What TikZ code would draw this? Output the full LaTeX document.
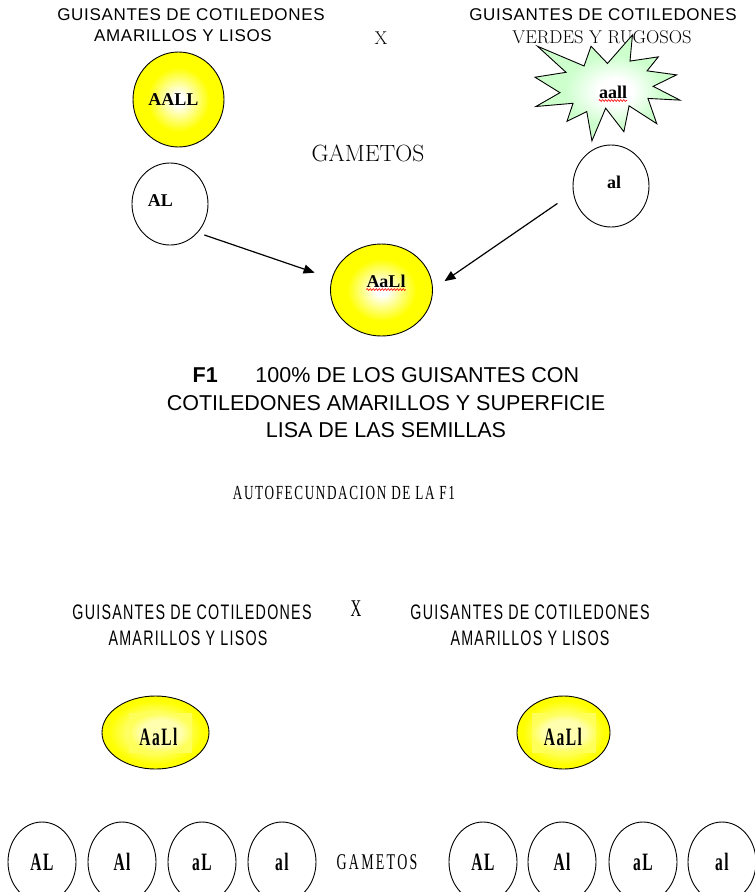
\documentclass[tikz,border=0pt]{standalone}
\usepackage{fontspec}
\usetikzlibrary{shapes.geometric,arrows.meta,decorations.pathmorphing}
\newfontfamily\arialf[LetterSpace=4]{Liberation Sans}
\newfontfamily\arialplain{Liberation Sans}
\newfontfamily\narrowsans[FakeStretch=0.68,LetterSpace=6]{Liberation Sans}
\newfontfamily\timesf{Liberation Serif}
\newfontfamily\condbold[FakeStretch=0.62,LetterSpace=6]{Liberation Serif}
\newfontfamily\condserif[FakeStretch=0.62,LetterSpace=10]{Liberation Serif}
\newfontfamily\autof[FakeStretch=0.66,LetterSpace=8]{Liberation Serif}
\definecolor{ylw}{RGB}{255,255,0}
\definecolor{grn}{RGB}{204,255,204}
\definecolor{ylwpale}{RGB}{255,255,175}
\definecolor{ylwedge}{RGB}{255,255,90}
\definecolor{ylwsoft}{RGB}{255,255,120}
\pgfdeclareradialshading{yglow}{\pgfpoint{0bp}{0bp}}{color(0bp)=(white); color(3bp)=(white); color(17bp)=(ylw); color(50bp)=(ylw)}
\pgfdeclareradialshading{ysoft}{\pgfpoint{0bp}{0bp}}{color(0bp)=(ylwsoft); color(12bp)=(ylwsoft); color(22bp)=(ylw); color(50bp)=(ylw)}
\pgfdeclareradialshading{gglow}{\pgfpoint{3bp}{-2bp}}{color(0bp)=(white); color(6bp)=(white); color(17bp)=(grn); color(50bp)=(grn)}
\pgfdeclareradialshading{rglow}{\pgfpoint{0bp}{0bp}}{color(0bp)=(ylwpale); color(16bp)=(ylwpale); color(25bp)=(ylwedge); color(50bp)=(ylwedge)}
\tikzset{
  head/.style={font=\arialf\fontsize{17}{20}\selectfont, inner sep=0pt},
  slab/.style={font=\rmfamily\fontsize{18.5}{20}\selectfont, inner sep=0pt},
  nhead/.style={font=\narrowsans\fontsize{21}{24}\selectfont, inner sep=0pt},
  geno/.style={font=\timesf\bfseries\fontsize{18}{20}\selectfont, inner sep=0pt},
  cgeno/.style={font=\condbold\bfseries\fontsize{25}{28}\selectfont, inner sep=0pt},
  ycirc/.style={ellipse, draw, line width=0.9pt, shading=yglow, inner sep=0pt},
  ysoftc/.style={ellipse, draw, line width=0.9pt, shading=ysoft, inner sep=0pt},
  wcirc/.style={ellipse, draw, line width=0.9pt, fill=white, inner sep=0pt},
  gcirc/.style={ellipse, draw, line width=0.9pt, fill=white, inner sep=0pt, minimum width=68pt, minimum height=80pt},
  arr/.style={line width=1.2pt, -{Triangle[length=11pt,width=9pt]}},
  spell/.style={red, line width=0.6pt, decorate, decoration={snake, amplitude=0.9pt, segment length=3pt}}
}
\begin{document}
\begin{tikzpicture}[x=1pt,y=-1pt]
\useasboundingbox (0,0) rectangle (755,892);
\clip (0,0) rectangle (755,892);
\fill[white] (0,0) rectangle (755,892);

% top headings
\node[head] (h1) at (191,15) {GUISANTES DE COTILEDONES};
\node[head] (h1b) at (183,36) {AMARILLOS Y LISOS};
\node[head] (h2) at (603,15) {GUISANTES DE COTILEDONES};
\node[slab] (h2b) at (602,37) {VERDES Y RUGOSOS};
\node[slab] (x1) at (381,38) {X};

% starburst
\begin{scope}[shift={(535,35)}, x=0.671pt, y=-0.49pt]
\draw[line width=0.9pt, shading=gglow] (108,58) -- (145.22,0) -- (141.55,53.25) -- (183.8,44.57) -- (167.02,73.15) -- (210.97,81.37) -- (176.07,104.75) -- (216,132.9) -- (168.37,129.42) -- (181.45,180.95) -- (140.2,144.57) -- (132.47,197.37) -- (105.32,149.35) -- (84.85,216) -- (77.15,156.27) -- (47.62,176.17) -- (56.67,139.37) -- (1.35,145.87) -- (37.22,117.75) -- (0,86.15) -- (46.27,76.17) -- (3.7,22.95) -- (73.12,63.2) -- (83.52,22.95) -- cycle;
\end{scope}
\node[geno] (taall) at (613,92) {aall};
\draw[spell] ([yshift=-2pt]taall.south west) -- ([yshift=-2pt]taall.south east);

% parents
\node[ycirc, minimum width=91pt, minimum height=95pt] (pAALL) at (178.5,99.5) {};
\node[geno] (tAALL) at (173.5,100) {AALL};

\node[slab, font=\rmfamily\fontsize{23.5}{25}\selectfont] (gam1) at (368,153) {GAMETOS};

\node[wcirc, minimum width=76pt, minimum height=82pt] (gAL) at (170,204) {};
\node[geno] (tAL) at (160.5,201) {AL};
\node[wcirc, minimum width=76pt, minimum height=82pt] (gal) at (611,186) {};
\node[geno] (tal) at (614,182) {al};

\node[ycirc, minimum width=102pt, minimum height=92pt] (F1c) at (381.5,290) {};
\node[geno] (tF1) at (386,281) {AaLl};
\draw[spell] ([yshift=-2pt]tF1.south west) -- ([yshift=-2pt]tF1.south east);

\draw[arr, shorten <=7pt, shorten >=18pt] (gAL.-46.6) -- (F1c.167.5);
\draw[arr, shorten <=19pt, shorten >=14pt] (gal.-170.5) -- (F1c.1.2);

% F1 text
\node[inner sep=0pt, align=center, font=\arialplain\fontsize{21.5}{27.5}\selectfont] (f1txt) at (386,403)
  {\textbf{F1}\hspace{1.75em}100\% DE LOS GUISANTES CON\\COTILEDONES AMARILLOS Y SUPERFICIE\\LISA DE LAS SEMILLAS};

\node[inner sep=0pt, font=\autof\fontsize{20}{22}\selectfont] (auto) at (344,493) {AUTOFECUNDACION DE LA F1};

% bottom headings
\node[nhead] (b1) at (192,612) {GUISANTES DE COTILEDONES};
\node[nhead] (b1b) at (188,638) {AMARILLOS Y LISOS};
\node[nhead] (b2) at (530,612) {GUISANTES DE COTILEDONES};
\node[nhead] (b2b) at (530,638) {AMARILLOS Y LISOS};
\node[inner sep=0pt, font=\condserif\fontsize{24}{26}\selectfont] (x2) at (356,609) {X};

% F1 plants
\node[ysoftc, minimum width=107pt, minimum height=73pt] (pL) at (155.5,732.5) {};
\fill[shading=rglow] (129,713) rectangle (192,752);
\node[cgeno] (tpL) at (158.5,737) {AaLl};
\node[ysoftc, minimum width=93pt, minimum height=73pt] (pR) at (563.5,732.5) {};
\fill[shading=rglow] (532,713) rectangle (596,752);
\node[cgeno] (tpR) at (563,737) {AaLl};

% gametes
\foreach \n/\x/\t in {g1/42/AL, g2/122/Al, g3/202/aL, g4/282/al, g5/483/AL, g6/562/Al, g7/643/aL, g8/722/al}{
  \node[gcirc] (\n) at (\x,862) {};
  \node[cgeno] (t\n) at (\x,862) {\t};
}
\node[inner sep=0pt, font=\condserif\fontsize{22.5}{24}\selectfont] (gam2) at (377,862) {GAMETOS};
\end{tikzpicture}
\end{document}
